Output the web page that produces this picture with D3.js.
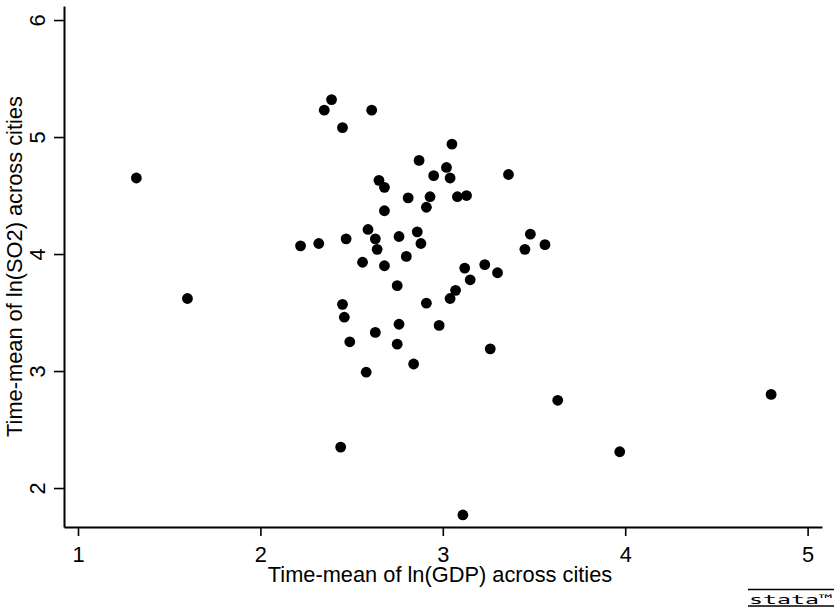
<!DOCTYPE html>
<html>
<head>
<meta charset="utf-8">
<script src="https://cdn.jsdelivr.net/npm/d3@7"></script>
<style>
  body { margin: 0; background: #fff; }
  svg { display: block; font-family: "Liberation Sans", Arial, Helvetica, sans-serif; }
</style>
</head>
<body>
<div id="chart"></div>
<script>
// time-mean of ln(GDP) per city
var gdp = [1.32, 1.60, 2.39, 2.35, 2.45, 2.61, 3.05, 2.87, 3.02, 2.95,
           3.04, 2.65, 2.68, 2.81, 2.93, 2.91, 3.08, 3.13, 2.68, 3.36,
           2.22, 2.32, 2.47, 2.59, 2.63, 2.76, 2.86, 2.88, 2.64, 2.80,
           2.56, 2.68, 3.12, 3.48, 3.56, 3.45, 3.23, 3.15, 3.30, 3.07,
           3.04, 2.91, 2.75, 2.45, 2.46, 2.76, 2.98, 2.63, 2.49, 2.75,
           2.84, 2.58, 3.26, 3.63, 3.97, 4.80, 2.44, 3.11];
// time-mean of ln(SO2) per city
var so2 = [4.65, 3.62, 5.32, 5.23, 5.08, 5.23, 4.94, 4.80, 4.74, 4.67,
           4.65, 4.63, 4.57, 4.48, 4.49, 4.40, 4.49, 4.50, 4.37, 4.68,
           4.07, 4.09, 4.13, 4.21, 4.13, 4.15, 4.19, 4.09, 4.04, 3.98,
           3.93, 3.90, 3.88, 4.17, 4.08, 4.04, 3.91, 3.78, 3.84, 3.69,
           3.62, 3.58, 3.73, 3.57, 3.46, 3.40, 3.39, 3.33, 3.25, 3.23,
           3.06, 2.99, 3.19, 2.75, 2.31, 2.80, 2.35, 1.77];
var xTicks = [1, 2, 3, 4, 5];
var yTicks = [2, 3, 4, 5, 6];
var xTitle = "Time-mean of ln(GDP) across cities";
var yTitle = "Time-mean of ln(SO2) across cities";

var width = 836, height = 611;
var plotLeft = 64, plotRight = 822, plotTop = 6, plotBottom = 527;

var svg = d3.select("#chart").append("svg")
            .attr("width", width)
            .attr("height", height);

svg.append("rect").attr("width", width).attr("height", height).attr("fill", "#fff");

var x = d3.scaleLinear().domain([0.9232, 5.0789]).range([plotLeft, plotRight]);
var y = d3.scaleLinear().domain([1.667, 6.120]).range([plotBottom, plotTop]);

// x axis
var gx = svg.append("g")
            .attr("transform", "translate(0," + plotBottom + ")")
            .call(d3.axisBottom(x).tickValues(xTicks).tickFormat(d3.format("d"))
                    .tickSize(9).tickSizeOuter(0).tickPadding(4));
gx.selectAll("text").attr("y", 35).attr("dy", 0)
  .style("font-size", "21.8px").attr("fill", "#000");

// y axis
var gy = svg.append("g")
            .attr("transform", "translate(" + plotLeft + ",0)")
            .call(d3.axisLeft(y).tickValues(yTicks).tickFormat(d3.format("d"))
                    .tickSize(10).tickSizeOuter(0));
gy.selectAll("text")
  .attr("transform", "rotate(-90)")
  .attr("x", 0).attr("y", -19).attr("dy", 0)
  .attr("text-anchor", "middle")
  .style("font-size", "21.8px").attr("fill", "#000");

svg.selectAll(".domain").attr("stroke", "#000").attr("stroke-width", 2);
svg.selectAll(".tick line").attr("stroke", "#000").attr("stroke-width", 1.6);

// axis titles
svg.append("text")
   .attr("x", 440).attr("y", 582)
   .attr("text-anchor", "middle")
   .style("font-size", "21.8px")
   .text(xTitle);

svg.append("text")
   .attr("transform", "translate(22,266.5) rotate(-90)")
   .attr("text-anchor", "middle")
   .style("font-size", "21.8px")
   .text(yTitle);

// points
svg.append("g").selectAll("circle")
   .data(gdp)
   .enter().append("circle")
   .attr("cx", function(d) { return x(d); })
   .attr("cy", function(d, i) { return y(so2[i]); })
   .attr("r", 5.4)
   .attr("fill", "#000");

// stata mark, bottom right
var logo = svg.append("g");
logo.append("line").attr("x1", 748).attr("x2", 834).attr("y1", 589.5).attr("y2", 589.5)
    .attr("stroke", "#000").attr("stroke-width", 1.3);
logo.append("line").attr("x1", 748).attr("x2", 834).attr("y1", 606).attr("y2", 606)
    .attr("stroke", "#000").attr("stroke-width", 1.3);
logo.append("text")
    .attr("x", 749).attr("y", 603.5)
    .attr("textLength", 84).attr("lengthAdjust", "spacingAndGlyphs")
    .style("font-family", "'DejaVu Sans Mono', monospace")
    .style("font-size", "13px")
    .text("stata\u2122");
</script>
</body>
</html>
